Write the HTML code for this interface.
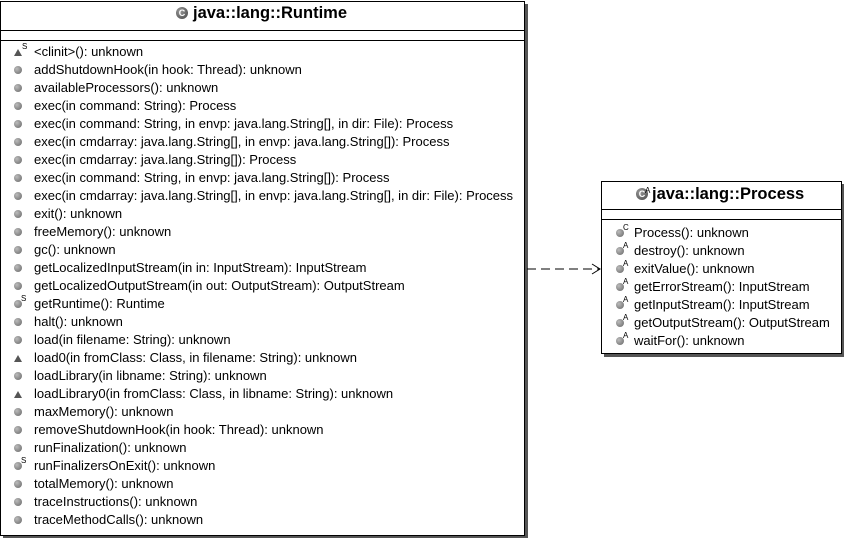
<!DOCTYPE html>
<html><head><meta charset="utf-8"><style>
body{margin:0;width:844px;height:538px;background:#fff;position:relative;overflow:hidden;font-family:"Liberation Sans",sans-serif;}
.box{position:absolute;border:1px solid #000;background:#fff;box-shadow:3px 3px 0 #555;}
.hl{position:absolute;left:0;right:0;height:0;border-top:1px solid #000;}
.t{position:absolute;font-weight:bold;font-size:16.5px;white-space:nowrap;}
.r{position:absolute;font-size:13px;white-space:nowrap;line-height:18px;height:18px;}
.ic{position:absolute;width:8px;height:8px;border-radius:50%;background:radial-gradient(circle at 35% 35%,#bbb,#666);}
.tri{position:absolute;width:0;height:0;border-left:4px solid transparent;border-right:4px solid transparent;border-bottom:7px solid #555;}
.sup{position:absolute;font-size:8px;line-height:8px;}
.ci{position:absolute;width:12px;height:12px;border-radius:50%;background:radial-gradient(circle at 35% 35%,#999,#444);color:#fff;font-size:9px;font-weight:bold;text-align:center;line-height:12px;}
</style></head><body>
<div class="box" style="left:0;top:1px;width:523px;height:533px;">
<div class="hl" style="top:28px"></div><div class="hl" style="top:38px"></div>
</div>
<div class="ci" style="left:176px;top:7px">C</div>
<div class="t" style="left:193px;top:4px">java::lang::Runtime</div>
<div id="rt"></div>
<div class="box" style="left:601px;top:181px;width:239px;height:171px;">
<div class="hl" style="top:27px"></div><div class="hl" style="top:37px"></div>
</div>
<div class="ci" style="left:636px;top:188px">C</div>
<div class="sup" style="left:645px;top:187px">A</div>
<div class="t" style="left:652px;top:185px">java::lang::Process</div>
<div id="pr"></div>
<svg style="position:absolute;left:0;top:0" width="844" height="538">
<line x1="527" y1="269" x2="600" y2="269" stroke="#000" stroke-dasharray="9,5"/>
<polyline points="592,264 600,269 592,274" fill="none" stroke="#000"/>
</svg>
<script>
var rt=[["s","<clinit>(): unknown"],["c","addShutdownHook(in hook: Thread): unknown"],["c","availableProcessors(): unknown"],["c","exec(in command: String): Process"],["c","exec(in command: String, in envp: java.lang.String[], in dir: File): Process"],["c","exec(in cmdarray: java.lang.String[], in envp: java.lang.String[]): Process"],["c","exec(in cmdarray: java.lang.String[]): Process"],["c","exec(in command: String, in envp: java.lang.String[]): Process"],["c","exec(in cmdarray: java.lang.String[], in envp: java.lang.String[], in dir: File): Process"],["c","exit(): unknown"],["c","freeMemory(): unknown"],["c","gc(): unknown"],["c","getLocalizedInputStream(in in: InputStream): InputStream"],["c","getLocalizedOutputStream(in out: OutputStream): OutputStream"],["S","getRuntime(): Runtime"],["c","halt(): unknown"],["c","load(in filename: String): unknown"],["t","load0(in fromClass: Class, in filename: String): unknown"],["c","loadLibrary(in libname: String): unknown"],["t","loadLibrary0(in fromClass: Class, in libname: String): unknown"],["c","maxMemory(): unknown"],["c","removeShutdownHook(in hook: Thread): unknown"],["c","runFinalization(): unknown"],["S","runFinalizersOnExit(): unknown"],["c","totalMemory(): unknown"],["c","traceInstructions(): unknown"],["c","traceMethodCalls(): unknown"]];
var pr=[["C","Process(): unknown"],["A","destroy(): unknown"],["A","exitValue(): unknown"],["A","getErrorStream(): InputStream"],["A","getInputStream(): InputStream"],["A","getOutputStream(): OutputStream"],["A","waitFor(): unknown"]];
function mk(list,x0,tx,y0){var h="";list.forEach(function(e,i){var cy=y0+i*18;var k=e[0];
if(k=="s"){h+='<div class="tri" style="left:'+(x0-4)+'px;top:'+(cy-3)+'px"></div><div class="sup" style="left:'+(x0+4)+'px;top:'+(cy-9)+'px">S</div>';}
else if(k=="t"){h+='<div class="tri" style="left:'+(x0-4)+'px;top:'+(cy-3)+'px"></div>';}
else{h+='<div class="ic" style="left:'+(x0-4)+'px;top:'+(cy-4)+'px"></div>';
if(k!="c")h+='<div class="sup" style="left:'+(x0+3)+'px;top:'+(cy-9)+'px">'+k+'</div>';}
h+='<div class="r" style="left:'+tx+'px;top:'+(cy-9)+'px">'+e[1].replace(/</g,"&lt;")+'</div>';});return h;}
document.getElementById("rt").innerHTML=mk(rt,18,34,52);
document.getElementById("pr").innerHTML=mk(pr,620,634,233);
</script>
</body></html>
